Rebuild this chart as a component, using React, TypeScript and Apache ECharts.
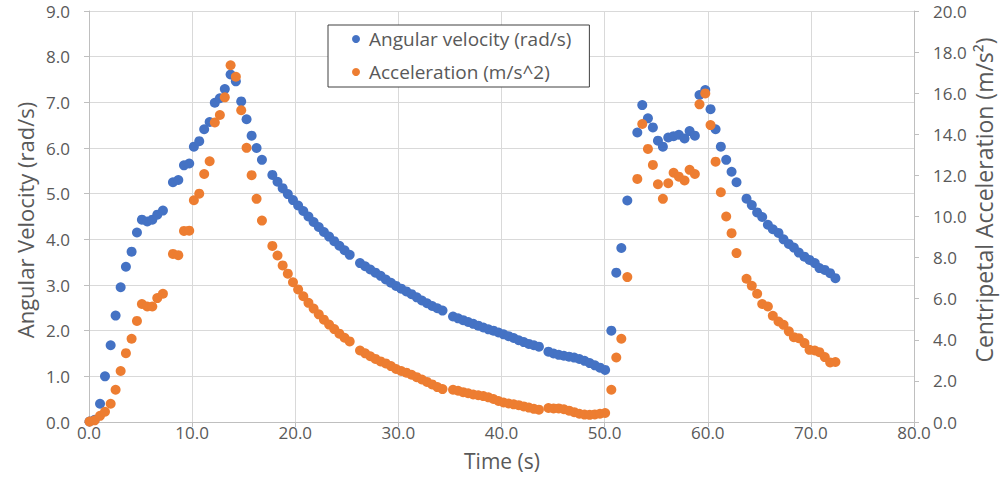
import React, { useEffect, useRef } from "react";
import * as echarts from "echarts";

const timeSeconds: number[] = [
  0.05, 0.55, 1.07, 1.55, 2.10, 2.58, 3.07, 3.58, 4.13, 4.65, 5.13, 5.65, 6.14, 6.62, 7.17,
  8.14, 8.66, 9.21, 9.72, 10.17, 10.69, 11.17, 11.70, 12.20, 12.69, 13.17, 13.73, 14.24, 14.76, 15.28,
  15.77, 16.25, 16.77,
  17.78, 18.28, 18.78, 19.28, 19.78, 20.28, 20.78, 21.28, 21.78, 22.28, 22.78, 23.28, 23.78, 24.28, 24.78, 25.28,
  26.28, 26.78, 27.28, 27.78, 28.28, 28.78, 29.28, 29.78, 30.28, 30.78, 31.28, 31.78, 32.28, 32.78, 33.28, 33.78, 34.28,
  35.30, 35.79, 36.28, 36.77, 37.26, 37.75, 38.24, 38.73, 39.22, 39.71, 40.20, 40.69, 41.18, 41.67, 42.16, 42.65, 43.14, 43.63,
  44.55, 45.05, 45.55, 46.05, 46.55, 47.05, 47.55, 48.05, 48.55, 49.05, 49.55, 50.05,
  50.65, 51.13, 51.62, 52.20, 53.17, 53.65, 54.20, 54.68, 55.17, 55.65, 56.17, 56.69, 57.20, 57.75, 58.24,
  58.75, 59.20, 59.76, 60.27, 60.76, 61.27, 61.79, 62.31, 62.79, 63.76, 64.27, 64.79, 65.28, 65.83, 66.31,
  66.86, 67.35, 67.86, 68.35, 68.83, 69.38, 69.87, 70.38, 70.83, 71.35, 71.87, 72.38,
];

const angularVelocity: number[] = [
  0.01, 0.05, 0.40, 1.00, 1.68, 2.33, 2.95, 3.40, 3.73, 4.15, 4.43, 4.39, 4.43, 4.54, 4.63,
  5.25, 5.30, 5.62, 5.66, 6.03, 6.15, 6.41, 6.57, 6.99, 7.09, 7.29, 7.61, 7.46, 7.02, 6.63,
  6.27, 6.00, 5.74,
  5.41, 5.26, 5.12, 4.99, 4.86, 4.74, 4.62, 4.50, 4.38, 4.27, 4.16, 4.06, 3.96, 3.86, 3.76, 3.66,
  3.48, 3.41, 3.34, 3.27, 3.20, 3.12, 3.05, 2.98, 2.92, 2.86, 2.80, 2.73, 2.66, 2.60, 2.54, 2.49, 2.44,
  2.31, 2.27, 2.23, 2.19, 2.15, 2.11, 2.07, 2.03, 2.00, 1.96, 1.92, 1.88, 1.84, 1.79, 1.75, 1.71, 1.68, 1.65,
  1.54, 1.50, 1.47, 1.45, 1.43, 1.41, 1.38, 1.34, 1.29, 1.24, 1.19, 1.14,
  2.00, 3.27, 3.81, 4.85, 6.34, 6.94, 6.65, 6.45, 6.16, 6.03, 6.23, 6.26, 6.29, 6.21, 6.37,
  6.27, 7.16, 7.27, 6.85, 6.41, 6.03, 5.74, 5.48, 5.25, 4.89, 4.75, 4.59, 4.49, 4.32, 4.22,
  4.14, 4.00, 3.90, 3.82, 3.71, 3.62, 3.55, 3.48, 3.37, 3.33, 3.26, 3.15,
];

const acceleration: number[] = [
  0.02, 0.08, 0.30, 0.50, 0.89, 1.57, 2.48, 3.35, 4.05, 4.92, 5.74, 5.62, 5.62, 6.03, 6.24,
  8.18, 8.12, 9.30, 9.31, 10.79, 11.11, 12.07, 12.69, 14.58, 14.94, 15.80, 17.36, 16.80, 15.17, 13.34,
  12.01, 10.86, 9.80,
  8.57, 8.10, 7.62, 7.22, 6.80, 6.45, 6.12, 5.80, 5.52, 5.24, 4.98, 4.74, 4.52, 4.30, 4.10, 3.92,
  3.48, 3.34, 3.20, 3.07, 2.95, 2.85, 2.72, 2.58, 2.48, 2.40, 2.30, 2.18, 2.07, 1.95, 1.83, 1.70, 1.60,
  1.57, 1.52, 1.45, 1.40, 1.34, 1.30, 1.26, 1.20, 1.12, 1.02, 0.95, 0.90, 0.86, 0.82, 0.76, 0.70, 0.64, 0.60,
  0.68, 0.66, 0.66, 0.62, 0.55, 0.48, 0.40, 0.36, 0.35, 0.37, 0.40, 0.44,
  1.57, 3.14, 4.05, 7.05, 11.83, 14.50, 13.29, 12.51, 11.57, 10.86, 11.62, 12.13, 11.94, 11.75, 12.27,
  12.07, 15.46, 15.99, 14.45, 12.67, 11.18, 10.00, 9.19, 8.22, 6.97, 6.63, 6.24, 5.74, 5.62, 5.17,
  4.89, 4.73, 4.41, 4.13, 4.08, 3.84, 3.51, 3.48, 3.40, 3.16, 2.90, 2.92,
];

const seriesNames: string[] = ["Angular velocity (rad/s)", "Acceleration (m/s^2)"];
const xTitle = "Time (s)";
const leftTitle = "Angular Velocity (rad/s)";
const rightTitle = "Centripetal Acceleration (m/s\u00B2)";

const FONT = "'Open Sans', 'Noto Sans', sans-serif";
const TEXT = "#595959";

export default function App() {
  const ref = useRef<HTMLDivElement>(null);
  useEffect(() => {
    if (!ref.current) return;
    const chart = echarts.init(ref.current, undefined, { renderer: "svg" });
    const velPts = timeSeconds.map((t, i) => [t, angularVelocity[i]]);
    const accPts = timeSeconds.map((t, i) => [t, acceleration[i]]);
    const fmt = (v: number) => v.toFixed(1);
    chart.setOption({
      animation: false,
      backgroundColor: "#ffffff",
      textStyle: { fontFamily: FONT },
      grid: { left: 89, right: 86, top: 11, bottom: 73, containLabel: false },
      legend: {
        orient: "vertical",
        left: 328,
        top: 25,
        data: seriesNames,
        icon: "circle",
        itemWidth: 8,
        itemHeight: 8,
        itemGap: 11,
        padding: [3, 18, 4, 24],
        borderColor: "#404040",
        borderWidth: 1,
        borderRadius: 0,
        backgroundColor: "#ffffff",
        textStyle: { fontSize: 19, color: TEXT, fontFamily: FONT, lineHeight: 22, padding: [0, 0, 0, 4] },
      },
      xAxis: {
        type: "value",
        min: 0,
        max: 80,
        interval: 10,
        axisLine: { show: true, lineStyle: { color: "#BFBFBF" } },
        axisTick: { show: true, length: 5, lineStyle: { color: "#BFBFBF" } },
        splitLine: { show: true, lineStyle: { color: "#D9D9D9" } },
        axisLabel: { formatter: fmt, fontSize: 17, lineHeight: 18, color: TEXT, fontFamily: FONT, margin: 1 },
      },
      yAxis: [
        {
          type: "value",
          min: 0,
          max: 9,
          interval: 1,
          axisLine: { show: true, lineStyle: { color: "#BFBFBF" } },
          axisTick: { show: true, length: 5, lineStyle: { color: "#BFBFBF" } },
          splitLine: { show: true, lineStyle: { color: "#D9D9D9" } },
          axisLabel: { formatter: fmt, fontSize: 17, color: TEXT, fontFamily: FONT, margin: 19 },
        },
        {
          type: "value",
          min: 0,
          max: 20,
          interval: 2,
          position: "right",
          axisLine: { show: true, lineStyle: { color: "#BFBFBF" } },
          axisTick: { show: true, length: 5, lineStyle: { color: "#BFBFBF" } },
          splitLine: { show: false },
          axisLabel: { formatter: fmt, fontSize: 17, color: TEXT, fontFamily: FONT, margin: 19 },
        },
      ],
      series: [
        {
          name: seriesNames[0],
          type: "scatter",
          yAxisIndex: 0,
          data: velPts,
          symbol: "circle",
          symbolSize: 10,
          itemStyle: { color: "#4472C4", opacity: 1 },
        },
        {
          name: seriesNames[1],
          type: "scatter",
          yAxisIndex: 1,
          data: accPts,
          symbol: "circle",
          symbolSize: 10,
          itemStyle: { color: "#ED7D31", opacity: 1 },
        },
      ],
      graphic: [
        {
          type: "text",
          x: 502,
          y: 461,
          style: { text: xTitle, fill: TEXT, fontSize: 21, lineHeight: 21, fontFamily: FONT, align: "center", verticalAlign: "middle" },
        },
        {
          type: "text",
          x: 25,
          y: 220,
          rotation: Math.PI / 2,
          style: { text: leftTitle, fill: TEXT, fontSize: 22, fontFamily: FONT, align: "center", verticalAlign: "middle" },
        },
        {
          type: "text",
          x: 984,
          y: 200,
          rotation: Math.PI / 2,
          style: { text: rightTitle, fill: TEXT, fontSize: 23, lineHeight: 24, fontFamily: FONT, align: "center", verticalAlign: "middle" },
        },
      ],
    });
    return () => chart.dispose();
  }, []);
  return (
    <div
      ref={ref}
      style={{ position: "absolute", left: 0, top: 0, width: 1000, height: 495 }}
    />
  );
}
